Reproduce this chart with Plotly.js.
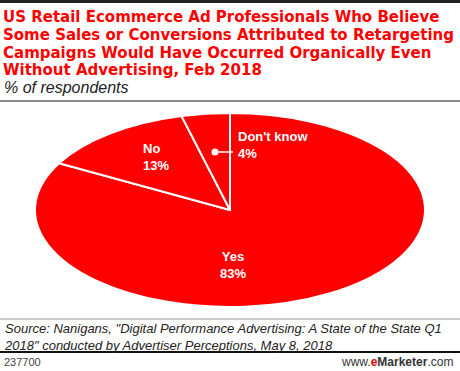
<!DOCTYPE html>
<html>
<head>
<meta charset="utf-8">
<script src="https://cdn.plot.ly/plotly-3.0.1.min.js"></script>
<style>html,body{margin:0;padding:0;background:#fff;} #chart{width:460px;height:371px;}</style>
</head>
<body>
<div id="chart"></div>
<script>
// ---- data ----
const labels = ["Yes", "No", "Don't know"];
const values = [83, 13, 4];
const titleLines = [
  "US Retail Ecommerce Ad Professionals Who Believe",
  "Some Sales or Conversions Attributed to Retargeting",
  "Campaigns Would Have Occurred Organically Even",
  "Without Advertising, Feb 2018"
];
const subtitle = "% of respondents";
const sourceLines = [
  "Source: Nanigans, \"Digital Performance Advertising: A State of the State Q1",
  "2018\" conducted by Advertiser Perceptions, May 8, 2018"
];
const chartId = "237700";

// ---- layout helpers ----
const W = 460, H = 371;
const px = x => x / W;
const py = y => 1 - y / H;
const RED = "#ff0000";
const BOLD = "DejaVu Sans";

const cx = 230, cy = 210, ry = 97, rx = 195;

const trace = {
  type: "pie",
  labels: labels,
  values: values,
  sort: false,
  direction: "clockwise",
  rotation: 0,
  textinfo: "none",
  hoverinfo: "none",
  showlegend: false,
  marker: {colors: [RED, RED, RED], line: {color: "#fff", width: 2}},
  domain: {x: [px(cx - ry), px(cx + ry)], y: [py(cy + ry), py(cy - ry)]}
};

const lbl = (t, x, y, anchor) => ({
  text: t, xref: "paper", yref: "paper", x: px(x), y: py(y),
  xanchor: anchor || "center", yanchor: "middle", showarrow: false, align: anchor || "center",
  font: {family: "Liberation Sans", size: 13, color: "#fff", weight: "bold"}
});

const pct = v => v + "%";

const annotations = [];
titleLines.forEach((t, i) => annotations.push({
  text: t, xref: "paper", yref: "paper", x: px(1), y: py(17.5 + i * 17.6),
  xanchor: "left", yanchor: "middle", align: "left", showarrow: false,
  font: {family: BOLD, size: 15, color: RED, weight: "bold"}
}));
annotations.push(
  {text: "<i>" + subtitle + "</i>", xref: "paper", yref: "paper", x: px(2), y: py(87.5),
   xanchor: "left", yanchor: "middle", showarrow: false,
   font: {family: "Liberation Sans", size: 16, color: "#222"}},
  lbl(labels[0] + "<br>" + pct(values[0]), 233, 265),
  lbl(labels[1] + "<br>" + pct(values[1]), 141, 157, "left"),
  lbl(labels[2] + "<br>" + pct(values[2]), 236, 145, "left"),
  {text: "<i>" + sourceLines.join("<br>") + "</i>", xref: "paper", yref: "paper", x: px(2), y: py(336.5),
   xanchor: "left", yanchor: "middle", align: "left", showarrow: false,
   font: {family: "Liberation Sans", size: 13, color: "#222"}},
  {text: chartId, xref: "paper", yref: "paper", x: px(2), y: py(362),
   xanchor: "left", yanchor: "middle", showarrow: false,
   font: {family: "Liberation Sans", size: 11, color: "#444"}},
  {text: "www.<b><span style='color:#e00000'>e</span>Marketer</b>.com", xref: "paper", yref: "paper", x: px(455), y: py(362),
   xanchor: "right", yanchor: "middle", showarrow: false,
   font: {family: "Liberation Sans", size: 12, color: "#333"}}
);

const shapes = [
  {type: "rect", xref: "paper", yref: "paper", x0: 0, x1: 1, y0: py(3), y1: py(0), fillcolor: "#222", line: {width: 0}},
  {type: "line", xref: "paper", yref: "paper", x0: 0, x1: 1, y0: py(101), y1: py(101), line: {color: "#666", width: 1.5}},
  {type: "line", xref: "paper", yref: "paper", x0: 0, x1: 1, y0: py(319), y1: py(319), line: {color: "#999", width: 1}},
  {type: "line", xref: "paper", yref: "paper", x0: 0, x1: 1, y0: py(352), y1: py(352), line: {color: "#111", width: 2}},
  // leader for "Don't know"
  {type: "circle", xref: "paper", yref: "paper", x0: px(211.5), x1: px(218.5), y0: py(155.5), y1: py(148.5), fillcolor: "#fff", line: {width: 0}},
  {type: "line", xref: "paper", yref: "paper", x0: px(215), x1: px(233), y0: py(152), y1: py(152), line: {color: "#fff", width: 1.5}}
];

const layout = {
  width: W, height: H,
  margin: {l: 0, r: 0, t: 0, b: 0},
  paper_bgcolor: "#fff",
  showlegend: false,
  annotations: annotations,
  shapes: shapes
};

Plotly.newPlot("chart", [trace], layout, {displayModeBar: false, staticPlot: true}).then(gd => {
  // stretch the pie horizontally into the reference's ellipse
  const s = rx / ry;
  gd.querySelectorAll(".pielayer g.trace").forEach(g => {
    g.setAttribute("transform", "translate(" + cx + ",0) scale(" + s + ",1) translate(" + (-cx) + ",0)");
    g.querySelectorAll("path").forEach(p => p.style.vectorEffect = "non-scaling-stroke");
  });
});
</script>
</body>
</html>
